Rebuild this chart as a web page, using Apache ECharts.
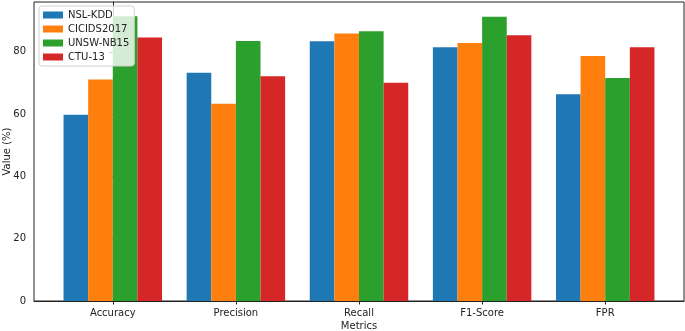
<!DOCTYPE html>
<html>
<head>
<meta charset="utf-8">
<script src="https://cdn.jsdelivr.net/npm/echarts@6/dist/echarts.min.js"></script>
<style>
  html, body { margin: 0; padding: 0; background: #fff; }
  #chart { width: 685px; height: 331px; }
</style>
</head>
<body>
<div id="chart"></div>
<script>
// metrics along the x axis
const metrics = ["Accuracy", "Precision", "Recall", "F1-Score", "FPR"]
const datasets = ["NSL-KDD", "CICIDS2017", "UNSW-NB15", "CTU-13"]

// values (%)
const nslKdd = [59.8, 73.3, 83.4, 81.5, 66.4]
const cicids2017 = [71.1, 63.3, 85.9, 82.8, 78.7]
const unswNb15 = [91.4, 83.5, 86.6, 91.3, 71.6]
const ctu13 = [84.6, 72.2, 70.1, 85.3, 81.5]

const yTicks = [0, 20, 40, 60, 80]

const colors = ["#1f77b4", "#ff7f0e", "#2ca02c", "#d62728"]
const seriesValues = [nslKdd, cicids2017, unswNb15, ctu13]

const chart = echarts.init(document.getElementById("chart"))

const font = "DejaVu Sans"
const xMin = -0.64
const xMax = 4.64
const plotWidth = 685 - 34 - 1
const barPx = (plotWidth / (xMax - xMin)) * 0.2

chart.setOption({
  animation: false,
  color: colors,
  textStyle: { fontFamily: font },
  grid: {
    left: 34,
    right: 1,
    top: 2,
    bottom: 30,
    outerBoundsMode: "none",
    containLabel: false,
    show: true,
    borderColor: "#222",
    borderWidth: 1,
  },
  legend: {
    orient: "vertical",
    left: 39,
    top: 6,
    itemWidth: 20,
    itemHeight: 7,
    itemGap: 2,
    padding: [3, 5, 3, 4],
    backgroundColor: "rgba(255,255,255,0.8)",
    borderColor: "#d0d0d0",
    borderWidth: 1,
    borderRadius: 3,
    textStyle: { fontFamily: font, fontSize: 10, color: "#222", lineHeight: 12 },
    data: datasets.map((name) => ({ name, icon: "rect" })),
  },
  xAxis: {
    type: "value",
    min: xMin,
    max: xMax,
    name: "Metrics",
    nameLocation: "middle",
    nameGap: 20,
    nameMoveOverlap: false,
    nameTextStyle: { fontFamily: font, fontSize: 10, color: "#222", verticalAlign: "top" },
    splitLine: { show: false },
    axisLine: { show: true, onZero: false, lineStyle: { color: "#222" } },
    axisTick: { show: true, length: 3.5, customValues: [0, 1, 2, 3, 4], lineStyle: { color: "#222" } },
    axisLabel: {
      customValues: [0, 1, 2, 3, 4],
      formatter: (v) => metrics[Math.round(v)] || "",
      fontFamily: font,
      fontSize: 10,
      color: "#222",
      margin: 7,
    },
  },
  yAxis: {
    type: "value",
    min: 0,
    max: 96,
    name: "Value (%)",
    nameLocation: "middle",
    nameGap: 22,
    nameMoveOverlap: false,
    nameTextStyle: { fontFamily: font, fontSize: 10, color: "#222" },
    splitLine: { show: false },
    axisLine: { show: true, lineStyle: { color: "#222" } },
    axisTick: { show: true, length: 3.5, customValues: yTicks, lineStyle: { color: "#222" } },
    axisLabel: {
      customValues: yTicks,
      fontFamily: font,
      fontSize: 10,
      color: "#222",
      margin: 8,
    },
  },
  series: datasets.map((name, i) => ({
    name,
    type: "bar",
    barWidth: barPx,
    barGap: "0%",
    itemStyle: { color: colors[i] },
    data: seriesValues[i].map((v, j) => [j, v]),
  })),
})
</script>
</body>
</html>
